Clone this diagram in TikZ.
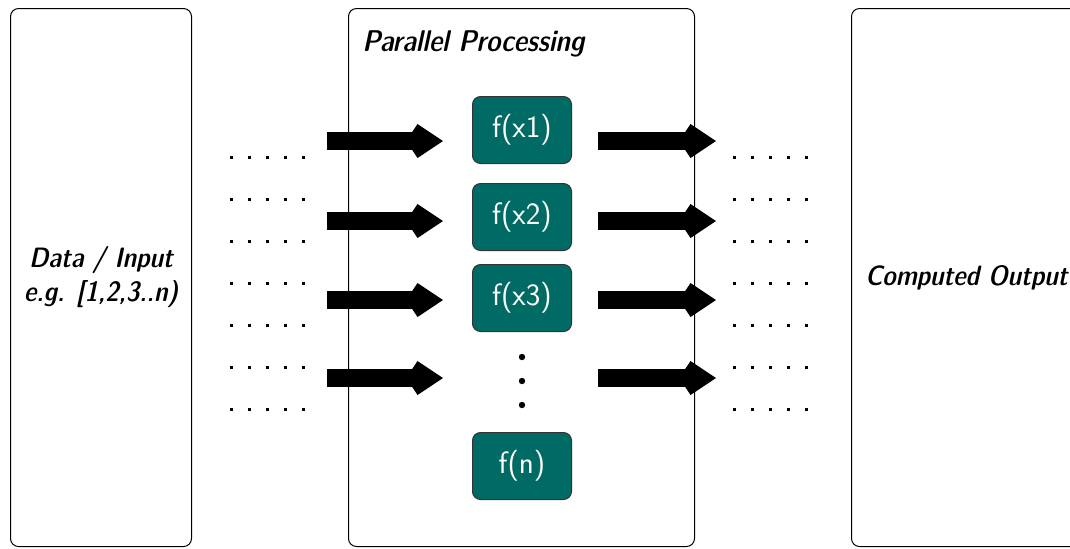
\documentclass[tikz,border=0pt]{standalone}
\usetikzlibrary{arrows.meta}
\definecolor{fteal}{RGB}{0,107,100}
\begin{document}
\begin{tikzpicture}[x=0.5pt,y=-0.5pt,
	panel/.style={draw,rounded corners=4pt,line width=0.5pt,inner sep=0pt,anchor=north west,minimum height=269pt},
	fbox/.style={draw=black!80,fill=fteal,text=white,rounded corners=4pt,line width=0.5pt,minimum width=49.5pt,minimum height=33.5pt,anchor=north west,font=\sffamily\fontsize{15.5}{18}\selectfont},
	heading/.style={font=\sffamily\fontseries{sbc}\fontshape{sl}\fontsize{14}{17}\selectfont,align=center},
	title/.style={font=\sffamily\fontseries{sbc}\fontshape{sl}\fontsize{15}{18}\selectfont,anchor=west,inner sep=0pt},
	fat/.style={line width=9pt,-{Straight Barb[length=9pt,width=12pt,line width=6pt]}}]
	\useasboundingbox (0,0) rectangle (1070,548);
	
	%panels
	\node[panel,heading,minimum width=90.5pt] (input) at (10,8) {Data / Input\\e.g. [1,2,3..n)};
	\node[panel,minimum width=173pt] (proc) at (348,8) {};
	\node[panel,heading,minimum width=115pt] (output) at (851,8) {Computed Output};
	\node[title] (ptitle) at (362,44) {Parallel Processing};
	
	%functions
	\node[fbox] (f1) at (472,96) {f(x1)};
	\node[fbox] (f2) at (472,183) {f(x2)};
	\node[fbox] (f3) at (472,264) {f(x3)};
	\node[fbox] (fn) at (472,432) {f(n)};
	\foreach \y in {357,381,405} \fill (522,\y) circle (1.6pt); %vdots
	
	%arrows
	\foreach \y [count=\i] in {141,221,300,378}{
		\coordinate (ia\i) at (327,\y);
		\coordinate (ib\i) at (443,\y);
		\coordinate (oa\i) at (598,\y);
		\coordinate (ob\i) at (716,\y);
		\draw[fat] (ia\i) -- (ib\i); %in
		\draw[fat] (oa\i) -- (ob\i); %out
	}
	
	%dotted rows
	\foreach \y in {157,199,...,409}{
		\foreach \x in {231,249,...,303} \fill (\x-1.5,\y-1.5) rectangle (\x+1.5,\y+1.5);
		\foreach \x in {734,752,...,806} \fill (\x-1.5,\y-1.5) rectangle (\x+1.5,\y+1.5);
	}
\end{tikzpicture}
\end{document}
